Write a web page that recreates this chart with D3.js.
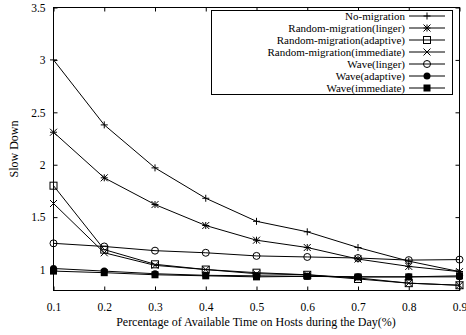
<!DOCTYPE html>
<html>
<head>
<meta charset="utf-8">
<script src="https://cdn.jsdelivr.net/npm/d3@7"></script>
<style>
  body { margin: 0; background: #fff; }
  text { font-family: "Liberation Serif", "Times New Roman", serif; fill: #000; }
</style>
</head>
<body>
<svg id="chart" width="466" height="335"></svg>
<script>
const xValues = [0.1, 0.2, 0.3, 0.4, 0.5, 0.6, 0.7, 0.8, 0.9];
const xTicks = [0.1, 0.2, 0.3, 0.4, 0.5, 0.6, 0.7, 0.8, 0.9];
const yTicks = [1, 1.5, 2, 2.5, 3, 3.5];

const seriesNames = [
    "No-migration",
    "Random-migration(linger)",
    "Random-migration(adaptive)",
    "Random-migration(immediate)",
    "Wave(linger)",
    "Wave(adaptive)",
    "Wave(immediate)"
];
const seriesMarks = ["plus", "star", "square", "cross", "circle", "dot", "block"];

const noMigration = [3.0, 2.38, 1.97, 1.68, 1.46, 1.36, 1.21, 1.08, 0.98];
const randomLinger = [2.31, 1.875, 1.62, 1.42, 1.28, 1.21, 1.1, 1.03, 0.98];
const randomAdaptive = [1.8, 1.19, 1.05, 1.0, 0.97, 0.95, 0.91, 0.87, 0.85];
const randomImmediate = [1.63, 1.16, 1.04, 1.0, 0.96, 0.95, 0.92, 0.87, 0.85];
const waveLinger = [1.25, 1.22, 1.18, 1.16, 1.13, 1.12, 1.11, 1.09, 1.095];
const waveAdaptive = [1.01, 0.985, 0.96, 0.945, 0.94, 0.935, 0.93, 0.93, 0.93];
const waveImmediate = [0.985, 0.97, 0.95, 0.94, 0.93, 0.935, 0.93, 0.93, 0.94];

const allSeries = [noMigration, randomLinger, randomAdaptive, randomImmediate,
    waveLinger, waveAdaptive, waveImmediate];

const svg = d3.select("#chart");
const plotLeft = 53.5, plotRight = 459.5, plotTop = 7.5, plotBottom = 290.5;

const x = d3.scaleLinear().domain([0.1, 0.9]).range([plotLeft, plotRight]);
const y = d3.scaleLinear().domain([0.8, 3.5]).range([plotBottom, plotTop]);

// inward ticks on all four sides
const tickLen = 4;
svg.append("g")
    .attr("transform", `translate(0,${plotBottom})`)
    .call(d3.axisBottom(x).tickValues(xTicks).tickSize(-tickLen).tickPadding(12)
        .tickFormat(d3.format(".1f")))
    .call(g => g.select(".domain").remove())
    .call(g => g.selectAll("text").attr("font-size", 11.5));
svg.append("g")
    .attr("transform", `translate(0,${plotTop})`)
    .call(d3.axisTop(x).tickValues(xTicks).tickSize(-tickLen).tickFormat(""))
    .call(g => g.select(".domain").remove());
svg.append("g")
    .attr("transform", `translate(${plotLeft},0)`)
    .call(d3.axisLeft(y).tickValues(yTicks).tickSize(-tickLen).tickPadding(8)
        .tickFormat(d => d3.format("")(d)))
    .call(g => g.select(".domain").remove())
    .call(g => g.selectAll("text").attr("font-size", 11.5));
svg.append("g")
    .attr("transform", `translate(${plotRight},0)`)
    .call(d3.axisRight(y).tickValues(yTicks).tickSize(-tickLen).tickFormat(""))
    .call(g => g.select(".domain").remove());

svg.selectAll(".tick line").attr("stroke", "#000");

svg.append("rect")
    .attr("x", plotLeft).attr("y", plotTop)
    .attr("width", plotRight - plotLeft).attr("height", plotBottom - plotTop)
    .attr("fill", "none").attr("stroke", "#000").attr("stroke-width", 1);

// axis titles
svg.append("text")
    .attr("x", 256).attr("y", 326)
    .attr("text-anchor", "middle").attr("font-size", 12)
    .text("Percentage of Available Time on Hosts during the Day(%)");
svg.append("text")
    .attr("transform", `translate(18,${(plotTop + plotBottom) / 2}) rotate(-90)`)
    .attr("text-anchor", "middle").attr("font-size", 12)
    .text("Slow Down");

function drawMark(g, kind, cx, cy) {
    const s = 3.5;
    if (kind === "plus") {
        g.append("path").attr("d", `M${cx - s},${cy}H${cx + s}M${cx},${cy - s}V${cy + s}`)
            .attr("stroke", "#000").attr("fill", "none");
    } else if (kind === "cross") {
        g.append("path").attr("d", `M${cx - s},${cy - s}L${cx + s},${cy + s}M${cx - s},${cy + s}L${cx + s},${cy - s}`)
            .attr("stroke", "#000").attr("fill", "none");
    } else if (kind === "star") {
        g.append("path").attr("d", `M${cx - s},${cy}H${cx + s}M${cx},${cy - s}V${cy + s}` +
            `M${cx - s},${cy - s}L${cx + s},${cy + s}M${cx - s},${cy + s}L${cx + s},${cy - s}`)
            .attr("stroke", "#000").attr("fill", "none");
    } else if (kind === "square") {
        g.append("rect").attr("x", cx - s).attr("y", cy - s).attr("width", 2 * s).attr("height", 2 * s)
            .attr("stroke", "#000").attr("fill", "none");
    } else if (kind === "circle") {
        g.append("circle").attr("cx", cx).attr("cy", cy).attr("r", s)
            .attr("stroke", "#000").attr("fill", "none");
    } else if (kind === "dot") {
        g.append("circle").attr("cx", cx).attr("cy", cy).attr("r", s)
            .attr("fill", "#000");
    } else if (kind === "block") {
        g.append("rect").attr("x", cx - s).attr("y", cy - s).attr("width", 2 * s).attr("height", 2 * s)
            .attr("fill", "#000");
    }
}

const line = d3.line().x((d, i) => x(xValues[i])).y(d => y(d));

allSeries.forEach((vals, k) => {
    const g = svg.append("g");
    g.append("path").datum(vals).attr("d", line)
        .attr("fill", "none").attr("stroke", "#000").attr("stroke-width", 1);
    vals.forEach((v, i) => drawMark(g, seriesMarks[k], x(xValues[i]), y(v)));
});

// legend
const legend = svg.append("g");
legend.append("rect")
    .attr("x", 211.5).attr("y", 10.5).attr("width", 241).attr("height", 84)
    .attr("fill", "#fff").attr("stroke", "#000");
seriesNames.forEach((name, k) => {
    const ly = 16 + k * 12;
    legend.append("text")
        .attr("x", 405).attr("y", ly).attr("dy", "0.35em")
        .attr("text-anchor", "end").attr("font-size", 11)
        .text(name);
    legend.append("line")
        .attr("x1", 409).attr("x2", 445).attr("y1", ly).attr("y2", ly)
        .attr("stroke", "#000");
    drawMark(legend, seriesMarks[k], 427, ly);
});
</script>
</body>
</html>
